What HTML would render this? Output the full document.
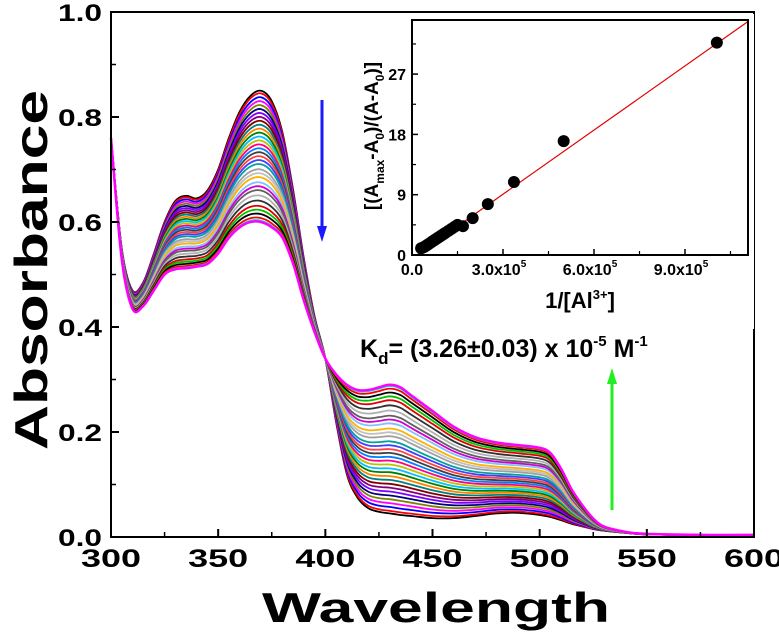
<!DOCTYPE html>
<html><head><meta charset="utf-8"><style>
html,body{margin:0;padding:0;background:#fff;}
svg{display:block;font-family:"Liberation Sans",Arial,sans-serif;font-weight:bold;}
</style></head><body>
<svg id="chart" width="779" height="636" viewBox="0 0 779 636" xmlns="http://www.w3.org/2000/svg">
<rect width="779" height="636" fill="#fff"/>
<g id="spectra"></g>
<g id="main-axes"></g>
<g id="inset"></g>
<line x1="322" y1="100" x2="322" y2="228" stroke="#1a1aff" stroke-width="3"/>
<polygon points="317,226 327,226 322,242" fill="#1a1aff"/>
<line x1="612" y1="510" x2="612" y2="382" stroke="#22ee22" stroke-width="3"/>
<polygon points="607,384 617,384 612,368" fill="#22ee22"/>
<text x="360" y="357" font-size="25" fill="#000">K<tspan font-size="17" dy="7">d</tspan><tspan dy="-7">= (3.26±0.03) x 10</tspan><tspan font-size="15" dy="-11">-5</tspan><tspan dy="11"> M</tspan><tspan font-size="15" dy="-11">-1</tspan></text>
<text transform="translate(47,270) rotate(-90)" text-anchor="middle" font-size="46" textLength="360" lengthAdjust="spacingAndGlyphs" fill="#000">Absorbance</text>
<text x="436" y="622" text-anchor="middle" font-size="42" textLength="348" lengthAdjust="spacingAndGlyphs" fill="#000">Wavelength</text>
</svg>
<script>
const wavelengths = [300,305,310,315,320,325,330,335,340,345,350,355,360,365,370,375,380,385,390,395,400,405,410,415,420,425,430,435,440,450,460,470,480,490,500,505,510,515,520,525,530,540,550,575,600];
const absStart = [0.76,0.55,0.47,0.485,0.54,0.60,0.64,0.65,0.645,0.66,0.70,0.76,0.81,0.84,0.85,0.83,0.77,0.66,0.53,0.42,0.34,0.22,0.12,0.075,0.055,0.048,0.045,0.042,0.04,0.036,0.036,0.04,0.045,0.046,0.042,0.038,0.032,0.025,0.02,0.015,0.012,0.008,0.005,0.004,0.003];
const absEnd = [0.76,0.53,0.435,0.44,0.47,0.50,0.51,0.512,0.515,0.52,0.54,0.57,0.59,0.60,0.60,0.59,0.57,0.52,0.45,0.39,0.34,0.31,0.29,0.28,0.28,0.285,0.29,0.285,0.27,0.24,0.21,0.19,0.18,0.175,0.17,0.16,0.13,0.09,0.06,0.035,0.02,0.01,0.006,0.004,0.004];
const titrationFractions = [0,0.02,0.05,0.08,0.11,0.14,0.17,0.2,0.23,0.26,0.29,0.32,0.35,0.38,0.41,0.44,0.47,0.5,0.53,0.56,0.6,0.63,0.66,0.7,0.73,0.76,0.8,0.84,0.88,0.91,0.94,0.97,0.99,1];
const seriesColors = ["#000000","#ff0000","#0000ff","#ff00ff","#808000","#000080","#8000ff","#800080","#800000","#008080","#ff8000","#008000","#00c0ff","#c0c000","#ff0080","#0080ff","#404040","#ff4040","#4040ff","#00a0a0","#a0a0a0","#c0c0c0","#ffb000","#80c0ff","#d000d0","#606060","#b0b0b0","#303030","#e00000","#00c000","#000000","#ff0000","#00e0e0","#ff00ff"];
const yTicks = [0.0,0.2,0.4,0.6,0.8,1.0];
const xTicks = [300,350,400,450,500,550,600];
const insetX = [0.3e5,0.35e5,0.4e5,0.45e5,0.5e5,0.55e5,0.6e5,0.65e5,0.7e5,0.75e5,0.8e5,0.85e5,0.9e5,0.95e5,1.0e5,1.05e5,1.1e5,1.2e5,1.3e5,1.4e5,1.5e5,1.68e5,2.0e5,2.5e5,3.36e5,5.0e5,10.05e5];
const insetY = [1.0,1.1,1.2,1.35,1.5,1.65,1.8,1.95,2.1,2.25,2.4,2.55,2.7,2.85,3.0,3.15,3.3,3.6,3.9,4.2,4.5,4.3,5.5,7.6,10.9,17.0,31.7];
const insetXTicks = [0,3e5,6e5,9e5];
const insetXTickLabels = ["0.0","3.0x10","6.0x10","9.0x10"];
const insetYTicks = [0,9,18,27];
const fitSlope = 3.19e-5, fitIntercept = -0.5;

const NS="http://www.w3.org/2000/svg";
function mk(tag,attrs,parent){const e=document.createElementNS(NS,tag);for(const k in attrs)e.setAttribute(k,attrs[k]);parent.appendChild(e);return e;}
function smoothPath(p){
  let d='M'+p[0][0].toFixed(1)+','+p[0][1].toFixed(1);
  for(let i=0;i<p.length-1;i++){
    const p0=p[Math.max(i-1,0)],p1=p[i],p2=p[i+1],p3=p[Math.min(i+2,p.length-1)];
    const c1x=p1[0]+(p2[0]-p0[0])/6,c1y=p1[1]+(p2[1]-p0[1])/6;
    const c2x=p2[0]-(p3[0]-p1[0])/6,c2y=p2[1]-(p3[1]-p1[1])/6;
    d+=' C'+c1x.toFixed(1)+','+c1y.toFixed(1)+' '+c2x.toFixed(1)+','+c2y.toFixed(1)+' '+p2[0].toFixed(1)+','+p2[1].toFixed(1);
  }
  return d;
}
const L=111,R=754,T=12,B=537;
const xs=w=>L+(w-300)/300*(R-L);
const ys=a=>B-a*(B-T);
const sp=document.getElementById('spectra');
titrationFractions.forEach((f,i)=>{
  const pts=wavelengths.map((w,j)=>[xs(w),ys((1-f)*absStart[j]+f*absEnd[j])]);
  const p=mk('path',{d:smoothPath(pts),fill:'none',stroke:seriesColors[i%seriesColors.length],'stroke-width':(i==titrationFractions.length-1?2.5:1.8),'stroke-linejoin':'round'},sp);
  
  
});
const ax=document.getElementById('main-axes');
const fr=mk('rect',{x:L,y:T,width:R-L,height:B-T,fill:'none',stroke:'#000','stroke-width':2},ax);


yTicks.forEach(v=>{
  mk('line',{x1:L,x2:L+8,y1:ys(v),y2:ys(v),stroke:'#000','stroke-width':2},ax);
  const t=mk('text',{x:L-9,y:ys(v)+9,'text-anchor':'end','font-size':24,textLength:44,lengthAdjust:'spacingAndGlyphs'},ax);t.textContent=v.toFixed(1);
  
  
});
for(let v=0.1;v<1;v+=0.2){mk('line',{x1:L,x2:L+5,y1:ys(v),y2:ys(v),stroke:'#000','stroke-width':1.5},ax);}
xTicks.forEach(v=>{
  mk('line',{x1:xs(v),x2:xs(v),y1:B,y2:B-8,stroke:'#000','stroke-width':2},ax);
  const t=mk('text',{x:xs(v)-30,y:B+30,'font-size':25,textLength:60,lengthAdjust:'spacingAndGlyphs'},ax);t.textContent=v;
  
  
});
for(let v=325;v<600;v+=50){mk('line',{x1:xs(v),x2:xs(v),y1:B,y2:B-5,stroke:'#000','stroke-width':1.5},ax);}
const iL=412,iR=748,iT=20,iB=255;
const ix=v=>iL+v/3e5*91;
const iy=v=>iB-v/9*60.3;
const ins=document.getElementById('inset');
mk('rect',{x:iL-60,y:iT-6,width:iR-iL+66,height:315,fill:'#fff'},ins);
const fl=mk('line',{x1:ix(0.16e5),y1:iy(fitSlope*0.16e5+fitIntercept),x2:iR,y2:iy(fitSlope*11.08e5+fitIntercept),stroke:'#e00000','stroke-width':1.2},ins);


insetX.forEach((x,i)=>{
  const c=mk('circle',{cx:ix(x),cy:iy(insetY[i]),r:6,fill:'#000'},ins);
  
  
});
const ifr=mk('rect',{x:iL,y:iT,width:iR-iL,height:iB-iT,fill:'none',stroke:'#000','stroke-width':2},ins);


insetXTicks.forEach((v,i)=>{
  mk('line',{x1:ix(v),x2:ix(v),y1:iB,y2:iB-6,stroke:'#000','stroke-width':1.5},ins);
  const t=mk('text',{x:ix(v)+(i?-4:0),y:iB+20,'text-anchor':'middle','font-size':16},ins);
  t.textContent=insetXTickLabels[i];
  if(i){const s=mk('tspan',{'font-size':10,dy:-8},t);s.textContent='5';}
  
  
});
for(let v=1.5e5;v<11e5;v+=3e5){mk('line',{x1:ix(v),x2:ix(v),y1:iB,y2:iB-4,stroke:'#000','stroke-width':1.2},ins);}
insetYTicks.forEach(v=>{
  mk('line',{x1:iL,x2:iL+6,y1:iy(v),y2:iy(v),stroke:'#000','stroke-width':1.5},ins);
  const t=mk('text',{x:iL-6,y:iy(v)+6,'text-anchor':'end','font-size':16},ins);t.textContent=v;
  
  
});
for(let v=4.5;v<35;v+=9){mk('line',{x1:iL,x2:iL+4,y1:iy(v),y2:iy(v),stroke:'#000','stroke-width':1.2},ins);}
const ixt=mk('text',{x:580,y:308,'text-anchor':'middle','font-size':22},ins);
ixt.innerHTML='1/[Al<tspan font-size="13" dy="-9">3+</tspan><tspan dy="9">]</tspan>';


const iyt=mk('text',{transform:'translate(378,136) rotate(-90)','text-anchor':'middle','font-size':19},ins);
iyt.innerHTML='[(A<tspan font-size="12" dy="6">max</tspan><tspan dy="-6">-A</tspan><tspan font-size="12" dy="6">0</tspan><tspan dy="-6">)/(A-A</tspan><tspan font-size="12" dy="6">0</tspan><tspan dy="-6">)]</tspan>';


</script>
</body></html>
